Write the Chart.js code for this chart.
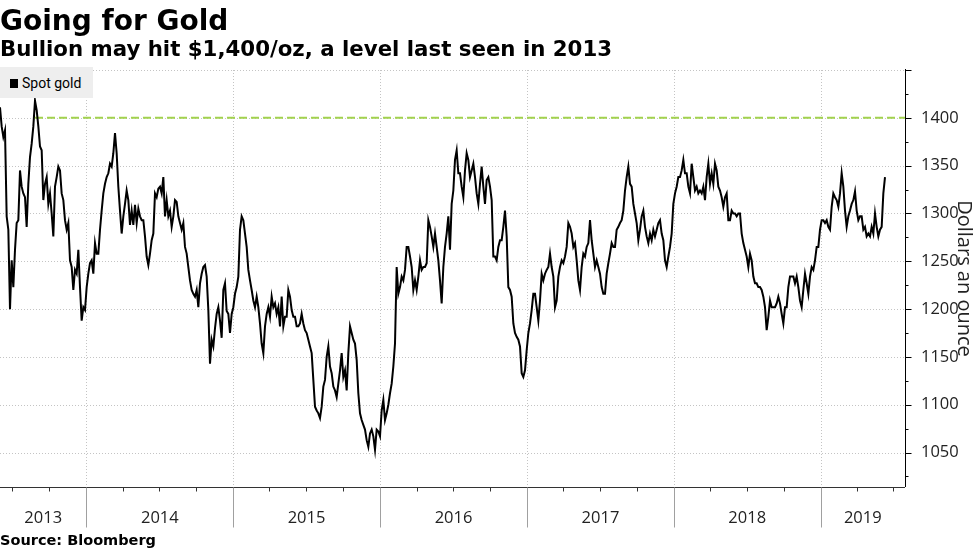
<!DOCTYPE html>
<html><head><meta charset="utf-8">
<script src="https://cdn.jsdelivr.net/npm/chart.js@4.4.1/dist/chart.umd.min.js"></script>
<style>
html,body{margin:0;padding:0;background:#fff;}
#wrap{position:relative;width:980px;height:551px;overflow:hidden;}
#c{position:absolute;left:0;top:0;}
.t{position:absolute;left:0;white-space:nowrap;color:#000;font-family:"DejaVu Sans",sans-serif;font-weight:bold;}
#title{top:7px;font-size:28px;line-height:28px;}
#sub{top:38px;font-size:21.3px;line-height:21px;}
#src{top:533px;font-size:14.5px;line-height:14px;}
#legend{position:absolute;left:0;top:67px;width:93px;height:31px;background:#eeeeee;font-family:Roboto,sans-serif;font-size:14px;color:#000;}
#legend .sw{position:absolute;left:10px;top:12px;width:8px;height:9px;background:#000;}
#legend .lb{position:absolute;left:22px;top:7px;line-height:18px;white-space:nowrap;}
</style></head>
<body>
<div id="wrap">
  <canvas id="c" width="980" height="551"></canvas>
  <div class="t" id="title">Going for Gold</div>
  <div class="t" id="sub">Bullion may hit $1,400/oz, a level last seen in 2013</div>
  <div class="t" id="src">Source: Bloomberg</div>
  <div id="legend"><div class="sw"></div><div class="lb">Spot gold</div></div>
</div>
<script>
// ---- data (USD per ounce), one reading about every 4 days ----
const firstDate = '2013-05-31';
const readingStepDays = 4.1455;
const spotGoldJun13 = [1411,1391,1380,1387,1297,1283,1200,1251,1223,1262,1290,1293,1345,1328,1321,1317,1286,1331,1359,1373,1391,1418,1408,1391,1370,1366,1314,1331,1338,1310,1321,1300,1276,1328,1338,1349,1345,1321,1314,1293,1283,1290,1251,1244,1220,1241,1237,1262,1223,1188,1202,1199,1223,1237,1248,1251,1237,1269,1258,1258,1283,1303,1321,1331,1338,1342,1352,1349,1363];
const spotGoldMar14 = [1384,1363,1328,1303,1279,1297,1310,1324,1314,1288,1303,1288,1309,1290,1305,1297,1293,1293,1276,1255,1246,1258,1272,1279,1321,1317,1326,1328,1321,1338,1297,1314,1297,1303,1286,1297,1314,1312,1297,1290,1283,1290,1265,1258,1244,1230,1220,1216,1213,1220,1202,1227,1237,1244,1246,1234,1199,1143,1168,1161,1180,1195,1202,1188,1170,1220,1227,1198,1195];
const spotGoldDec14 = [1175,1195,1202,1216,1223,1234,1283,1297,1293,1279,1265,1241,1230,1220,1209,1202,1213,1202,1185,1164,1154,1182,1195,1202,1192,1213,1202,1206,1195,1202,1182,1213,1182,1192,1192,1220,1213,1199,1192,1192,1182,1182,1185,1195,1185,1178,1175,1168,1161,1154,1126,1098,1094,1091,1086,1098,1119,1126,1150,1161,1140,1133,1119,1115,1108,1122,1136,1154,1129];
const spotGoldOct15 = [1136,1115,1154,1182,1175,1168,1164,1147,1112,1091,1084,1079,1074,1063,1056,1070,1074,1067,1053,1074,1072,1067,1094,1105,1084,1091,1100,1112,1122,1140,1164,1244,1216,1223,1234,1230,1241,1265,1265,1255,1244,1220,1230,1220,1234,1251,1241,1244,1244,1248,1293,1286,1276,1265,1279,1265,1251,1230,1206,1244,1265,1279,1297,1262,1310,1324,1356,1366,1342];
const spotGoldJul16 = [1342,1328,1317,1345,1363,1356,1338,1345,1352,1338,1321,1310,1331,1349,1328,1310,1335,1338,1328,1314,1255,1255,1251,1265,1272,1272,1286,1303,1276,1223,1220,1213,1185,1175,1171,1168,1161,1133,1129,1136,1157,1175,1185,1199,1216,1216,1202,1188,1209,1237,1230,1237,1241,1244,1258,1244,1234,1202,1209,1234,1244,1251,1248,1255,1265,1290,1286,1279,1265];
const spotGoldApr17 = [1269,1251,1230,1220,1244,1258,1255,1265,1269,1293,1272,1258,1244,1251,1244,1237,1223,1216,1216,1237,1248,1258,1269,1265,1265,1283,1286,1290,1293,1303,1324,1338,1349,1331,1328,1310,1300,1290,1272,1283,1297,1303,1286,1276,1269,1279,1272,1283,1276,1283,1290,1293,1279,1272,1251,1244,1255,1265,1279,1310,1321,1328,1338,1338,1345,1356,1342,1342,1328];
const spotGoldFeb18 = [1321,1352,1338,1324,1328,1321,1324,1321,1328,1314,1338,1352,1331,1342,1331,1352,1345,1328,1324,1317,1307,1317,1321,1293,1293,1303,1300,1300,1297,1300,1300,1279,1269,1262,1255,1244,1258,1251,1234,1227,1227,1223,1223,1220,1213,1202,1178,1192,1209,1202,1202,1202,1206,1213,1206,1195,1185,1202,1202,1223,1234,1234,1234,1227,1234,1223,1209,1202,1220];
const spotGoldNov18 = [1237,1227,1216,1234,1244,1241,1251,1265,1265,1283,1293,1293,1290,1293,1286,1283,1307,1321,1317,1314,1307,1321,1342,1328,1303,1286,1297,1303,1310,1314,1323,1303,1293,1297,1297,1283,1286,1276,1279,1276,1286,1279,1300,1286,1276,1283,1286,1321,1338];

const targetLevel = 1400;            // dashed line
const targetFrom = '2013-08-26';     // last time gold was at that level
const axisStart = '2013-05-31';
const axisEnd = '2019-07-30';
const yearLabels = ['2013','2014','2015','2016','2017','2018','2019'];
const yLabelValues = [1050,1100,1150,1200,1250,1300,1350,1400];
const yMin = 1014, yMax = 1450;

// ---- helpers ----
const day = s => (Date.UTC(+s.slice(0,4), +s.slice(5,7)-1, +s.slice(8,10)) - Date.UTC(2013,0,1)) / 86400000;
const X_MIN = day(axisStart), X_MAX = day(axisEnd);
const spotGold = [].concat(spotGoldJun13, spotGoldMar14, spotGoldDec14, spotGoldOct15, spotGoldJul16, spotGoldApr17, spotGoldFeb18, spotGoldNov18);
const t0 = day(firstDate);
const goldPoints = spotGold.map((v,i) => ({x: t0 + i*readingStepDays, y: v}));
const targetPoints = [{x: day(targetFrom), y: targetLevel}, {x: X_MAX, y: targetLevel}];

const yearStarts = yearLabels.map(y => day(y + '-01-01'));
const quarterTicks = [];
yearLabels.forEach(y => ['04','07','10'].forEach(m => { const d = day(y+'-'+m+'-01'); if (d >= X_MIN && d <= X_MAX) quarterTicks.push(d); }));
const yGrid = []; for (let v = 1050; v <= yMax; v += 50) yGrid.push(v);
const yMinor = []; for (let v = 1025; v <= yMax; v += 25) yMinor.push(v);

const axisFont = '16.5px "Open Sans", sans-serif';

const bbgAxes = {
  id: 'bbgAxes',
  beforeDatasetsDraw(chart) {
    const {ctx, chartArea: a, scales: {x, y}} = chart;
    ctx.save();
    ctx.strokeStyle = '#c4c4c4'; ctx.lineWidth = 1; ctx.setLineDash([1, 2]);
    yGrid.forEach(v => { const py = Math.round(y.getPixelForValue(v)) + 0.5; ctx.beginPath(); ctx.moveTo(a.left, py); ctx.lineTo(a.right, py); ctx.stroke(); });
    yearStarts.forEach(d => { if (d <= X_MIN || d >= X_MAX) return; const px = Math.round(x.getPixelForValue(d)) + 0.5; ctx.beginPath(); ctx.moveTo(px, a.top); ctx.lineTo(px, a.bottom); ctx.stroke(); });
    ctx.restore();
  },
  afterDraw(chart) {
    const {ctx, chartArea: a, scales: {x, y}} = chart;
    ctx.save();
    ctx.setLineDash([]);
    const by = Math.round(a.bottom) + 0.5;
    ctx.strokeStyle = '#333'; ctx.lineWidth = 1;
    ctx.beginPath(); ctx.moveTo(a.left, by); ctx.lineTo(a.right, by); ctx.stroke();
    quarterTicks.forEach(d => { const px = Math.round(x.getPixelForValue(d)) + 0.5; ctx.beginPath(); ctx.moveTo(px, by); ctx.lineTo(px, by + 4); ctx.stroke(); });
    ctx.strokeStyle = '#a0a0a0';
    yearStarts.forEach(d => { if (d <= X_MIN || d >= X_MAX) return; const px = Math.round(x.getPixelForValue(d)) + 0.5; ctx.beginPath(); ctx.moveTo(px, by); ctx.lineTo(px, by + 40); ctx.stroke(); });
    const rx = Math.round(a.right) + 0.5;
    ctx.strokeStyle = '#000';
    ctx.beginPath(); ctx.moveTo(rx, a.top - 1); ctx.lineTo(rx, a.bottom); ctx.stroke();
    yMinor.forEach(v => { const py = Math.round(y.getPixelForValue(v)) + 0.5; const len = v % 50 === 0 ? 6 : 3; ctx.beginPath(); ctx.moveTo(rx, py); ctx.lineTo(rx + len, py); ctx.stroke(); });
    ctx.fillStyle = '#222'; ctx.font = axisFont; ctx.textAlign = 'center'; ctx.textBaseline = 'middle';
    yearLabels.forEach((lab, i) => {
      const s = Math.max(yearStarts[i], X_MIN);
      const e = Math.min(i + 1 < yearStarts.length ? yearStarts[i + 1] : day((+lab + 1) + '-01-01'), X_MAX);
      const cx = (x.getPixelForValue(s) + x.getPixelForValue(e)) / 2;
      ctx.fillText(lab, cx, 518);
    });
    ctx.restore();
  }
};

new Chart(document.getElementById('c'), {
  type: 'line',
  data: {
    datasets: [
      {label: 'Spot gold', data: goldPoints, borderColor: '#000', borderWidth: 2, pointRadius: 0, tension: 0, fill: false},
      {label: 'Target', data: targetPoints, borderColor: '#a2d24e', borderDash: [8, 4], borderWidth: 2, pointRadius: 0, fill: false}
    ]
  },
  options: {
    responsive: false, animation: false, devicePixelRatio: 1,
    layout: {padding: {top: 70, left: 0, right: 0, bottom: 0}},
    plugins: {legend: {display: false}, tooltip: {enabled: false}, title: {display: false}},
    scales: {
      x: {
        type: 'linear', min: X_MIN, max: X_MAX,
        grid: {display: false}, border: {display: false},
        ticks: {display: false},
        afterFit(s) { s.height = 64; }
      },
      y: {
        position: 'right', min: yMin, max: yMax,
        grid: {display: false}, border: {display: false},
        afterBuildTicks(s) { s.ticks = yLabelValues.map(v => ({value: v})); },
        ticks: {padding: 8, color: '#222', font: {family: 'Open Sans', size: 16.5}, callback: v => String(v)},
        title: {display: true, text: 'Dollars an ounce', color: '#222', font: {family: 'Open Sans', size: 20}, padding: {top: 4, bottom: 0}},
        afterFit(s) { s.width = 75; }
      }
    }
  },
  plugins: [bbgAxes]
});
</script>
</body></html>
